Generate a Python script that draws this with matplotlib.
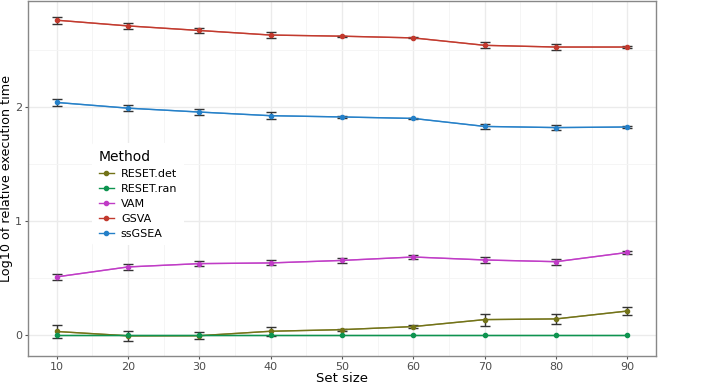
import numpy as np
import matplotlib.pyplot as plt

set_size = [10, 20, 30, 40, 50, 60, 70, 80, 90]
methods = ["RESET.det", "RESET.ran", "VAM", "GSVA", "ssGSEA"]

reset_det = [0.035, -0.003, -0.002, 0.037, 0.051, 0.078, 0.139, 0.145, 0.214]
reset_det_err = [0.055, 0.043, 0.03, 0.04, 0.01, 0.01, 0.052, 0.043, 0.038]
reset_ran = [0.0, 0.0, 0.0, 0.0, 0.0, 0.0, 0.0, 0.0, 0.0]
reset_ran_err = [0.0, 0.0, 0.0, 0.0, 0.0, 0.0, 0.0, 0.0, 0.0]
vam = [0.513, 0.60, 0.629, 0.635, 0.657, 0.687, 0.661, 0.646, 0.727]
vam_err = [0.025, 0.025, 0.025, 0.022, 0.02, 0.018, 0.03, 0.025, 0.01]
gsva = [2.76, 2.71, 2.67, 2.63, 2.62, 2.605, 2.54, 2.525, 2.525]
gsva_err = [0.03, 0.025, 0.025, 0.025, 0.005, 0.005, 0.025, 0.03, 0.007]
ssgsea = [2.04, 1.99, 1.956, 1.924, 1.913, 1.90, 1.83, 1.82, 1.825]
ssgsea_err = [0.03, 0.025, 0.025, 0.03, 0.01, 0.005, 0.025, 0.025, 0.01]

COLORS = {
    "RESET.det": "#737318",
    "RESET.ran": "#0E9450",
    "VAM": "#C03CC6",
    "GSVA": "#C23A2E",
    "ssGSEA": "#2580C8",
}
GRID_COLOR = "#EBEBEB"

series = {
    "RESET.det": (reset_det, reset_det_err),
    "RESET.ran": (reset_ran, reset_ran_err),
    "VAM": (vam, vam_err),
    "GSVA": (gsva, gsva_err),
    "ssGSEA": (ssgsea, ssgsea_err),
}

fig = plt.figure(figsize=(7.2, 3.87), dpi=100)
ax = fig.add_axes([0.039, 0.08, 0.872, 0.918])

for name in methods:
    y, err = series[name]
    c = COLORS[name]
    ax.plot(set_size, y, color=c, lw=1.0, alpha=0.7, zorder=2)
    if any(e > 0 for e in err):
        ax.errorbar(set_size, y, yerr=err, fmt="none", ecolor="#333333",
                    elinewidth=1.0, capsize=3.5, capthick=1.0, zorder=3)
    ax.plot(set_size, y, "o", color=c, ms=3.0, zorder=4, label=name,
            linestyle="-", lw=1.0)

ax.set_xlim(6, 94)
ax.set_ylim(-0.18, 2.93)
ax.set_xticks(set_size)
ax.set_xticks([15, 25, 35, 45, 55, 65, 75, 85], minor=True)
ax.set_yticks([0, 1, 2])
ax.set_yticks([0.5, 1.5, 2.5], minor=True)
ax.grid(which="major", color=GRID_COLOR, lw=1.0, zorder=0)
ax.grid(which="minor", color="#F4F4F4", lw=0.6, zorder=0)
ax.set_axisbelow(True)
ax.tick_params(which="major", colors="#555555", labelsize=8, length=2.5, width=0.8,
               labelcolor="#4D4D4D", pad=2)
ax.tick_params(which="minor", length=0)
for sp in ax.spines.values():
    sp.set_color("#888888")
    sp.set_linewidth(1.0)

ax.set_xlabel("Set size", fontsize=9.5, labelpad=0)
ax.set_ylabel("Log10 of relative execution time", fontsize=9.2, labelpad=1)

leg = ax.legend(loc="upper left", bbox_to_anchor=(0.093, 0.615), title="Method",
                frameon=True, fontsize=8, title_fontsize=10, handlelength=1.4,
                handletextpad=0.6, borderpad=0.6, labelspacing=0.45,
                alignment="left")
leg.get_frame().set_facecolor("white")
leg.get_frame().set_edgecolor("none")
leg.get_frame().set_alpha(1.0)

fig.savefig("out.png", dpi=100, facecolor="white")
